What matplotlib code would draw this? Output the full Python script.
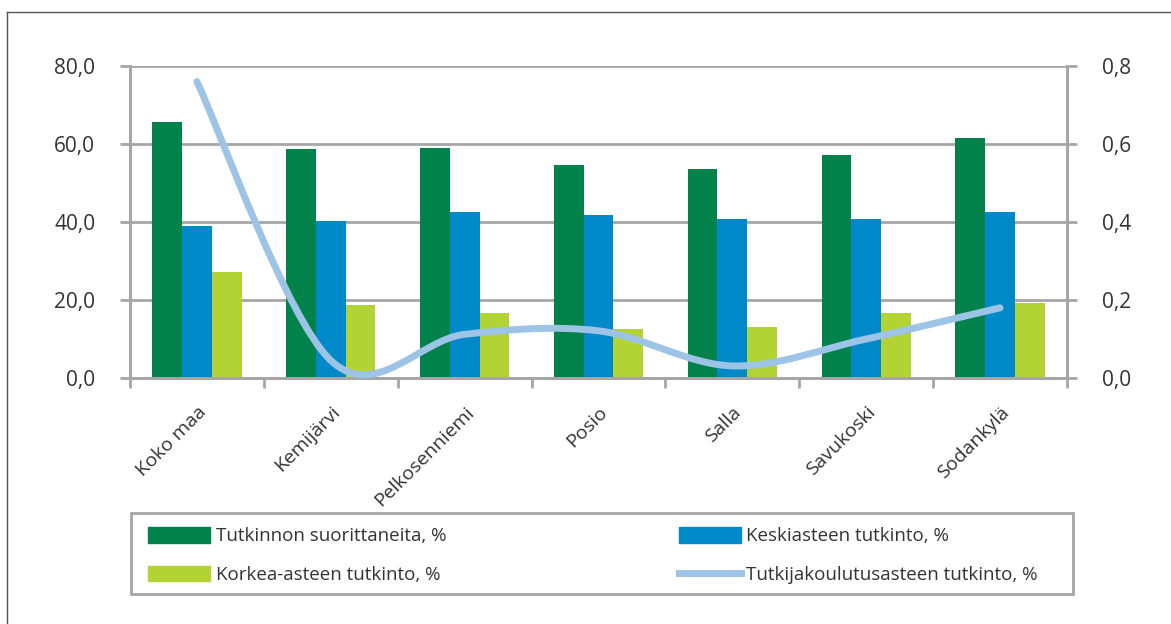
import matplotlib
matplotlib.use("Agg")
import matplotlib.pyplot as plt
from matplotlib.path import Path
from matplotlib.patches import PathPatch, Patch, Rectangle
from matplotlib.lines import Line2D
from matplotlib.ticker import FuncFormatter, FixedLocator

plt.rcParams['font.family'] = ['Open Sans', 'DejaVu Sans']

kunnat = ["Koko maa", "Kemijärvi", "Pelkosenniemi", "Posio", "Salla", "Savukoski", "Sodankylä"]
suorittaneita = [65.7, 58.6, 59.1, 54.7, 53.5, 57.3, 61.6]
keskiaste = [38.9, 40.2, 42.5, 41.9, 40.7, 40.7, 42.5]
korkea_aste = [27.1, 18.7, 16.6, 12.5, 13.0, 16.6, 19.2]
tutkija = [0.76, 0.045, 0.112, 0.121, 0.031, 0.10, 0.18]

GREEN = "#00824a"
BLUE = "#0089c8"
LIME = "#b3d335"
LINE = "#9dc3e6"
GRID = "#a6a6a6"
TXT = "#333333"

W, H = 1171, 624
fig = plt.figure(figsize=(W / 100, H / 100), dpi=100)
ax = fig.add_axes([130 / W, 1 - 378 / H, (1067 - 130) / W, (378 - 66) / H])
ax2 = ax.twinx()

x = list(range(len(kunnat)))
w = 0.222
ax.bar([i - w for i in x], suorittaneita, w, color=GREEN, zorder=2)
ax.bar(x, keskiaste, w, color=BLUE, zorder=2)
ax.bar([i + w for i in x], korkea_aste, w, color=LIME, zorder=2)

# smoothed line, Excel style (catmull-rom as cubic bezier)
pts = list(zip(x, tutkija))
verts = [pts[0]]
codes = [Path.MOVETO]
n = len(pts)
for i in range(n - 1):
    p0 = pts[i - 1] if i > 0 else pts[i]
    p1 = pts[i]
    p2 = pts[i + 1]
    p3 = pts[i + 2] if i + 2 < n else pts[i + 1]
    c1 = (p1[0] + (p2[0] - p0[0]) / 6, p1[1] + (p2[1] - p0[1]) / 6)
    c2 = (p2[0] - (p3[0] - p1[0]) / 6, p2[1] - (p3[1] - p1[1]) / 6)
    verts += [c1, c2, p2]
    codes += [Path.CURVE4] * 3
ax2.add_patch(PathPatch(Path(verts, codes), facecolor="none", edgecolor=LINE,
                        lw=5, capstyle="round", zorder=3))

ax.set_xlim(-0.5, len(kunnat) - 0.5)
ax.set_ylim(0, 80)
ax2.set_ylim(0, 0.8)
ax.set_yticks([0, 20, 40, 60, 80])
ax2.set_yticks([0, 0.2, 0.4, 0.6, 0.8])
ax.yaxis.set_major_formatter(FuncFormatter(lambda v, p: f"{v:.1f}".replace(".", ",")))
ax2.yaxis.set_major_formatter(FuncFormatter(lambda v, p: f"{v:.1f}".replace(".", ",")))

ax.xaxis.set_major_locator(FixedLocator([i - 0.5 for i in range(len(kunnat) + 1)]))
ax.xaxis.set_minor_locator(FixedLocator(x))
ax.set_xticklabels([], minor=False)
ax.set_xticklabels(kunnat, minor=True, rotation=45, ha="right", va="top",
                   rotation_mode="anchor")
ax.tick_params(axis="x", which="minor", length=0, pad=18, labelsize=14, labelcolor=TXT)
ax.tick_params(axis="x", which="major", length=7, width=2, color=GRID)
ax.tick_params(axis="y", length=7, width=2, color=GRID, pad=18, labelsize=15, labelcolor=TXT)
ax2.tick_params(axis="y", length=7, width=2, color=GRID, pad=18, labelsize=15, labelcolor=TXT)

ax.grid(axis="y", color=GRID, lw=2, zorder=1)
ax.set_axisbelow(True)
for a in (ax, ax2):
    for s in a.spines.values():
        s.set_color(GRID)
        s.set_linewidth(2)
    a.spines["top"].set_visible(False)

handles = [
    Patch(color=GREEN, label="Tutkinnon suorittaneita, %"),
    Patch(color=LIME, label="Korkea-asteen tutkinto, %"),
    Patch(color=BLUE, label="Keskiasteen tutkinto, %"),
    Line2D([], [], color=LINE, lw=5, label="Tutkijakoulutusasteen tutkinto, %"),
]
fs = 13.5
fpx = fs * 100 / 72
leg = fig.legend(handles=handles, ncol=2, loc="upper left",
                 bbox_to_anchor=(148 / W, 1 - 527 / H), borderaxespad=0, borderpad=0,
                 fontsize=fs, handlelength=62 / fpx, handleheight=17 / fpx,
                 handletextpad=6 / fpx, labelspacing=1.09, columnspacing=232 / fpx,
                 frameon=False, labelcolor=TXT)

# legend box
fig.add_artist(Rectangle((131 / W, 1 - 594 / H), (1073 - 131) / W, 81 / H,
                         transform=fig.transFigure, fill=False, edgecolor=GRID, lw=2))

# outer frame (top and left)
fig.add_artist(Line2D([6.5 / W, 1], [1 - 11.5 / H] * 2, color="#555555", lw=1))
fig.add_artist(Line2D([6.5 / W] * 2, [0, 1 - 11.5 / H], color="#555555", lw=1))

fig.savefig("out.png", dpi=100)
